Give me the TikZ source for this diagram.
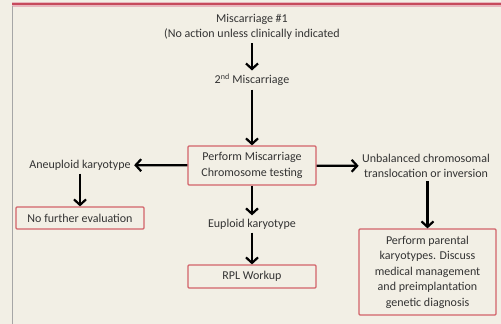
\documentclass[tikz,border=0pt]{standalone}
\usepackage{fontspec}
\setmainfont{Carlito}
\usepackage{tikz}
\usetikzlibrary{positioning,arrows.meta}
\definecolor{paper}{HTML}{F2EFE5}
\definecolor{boxred}{HTML}{D2636A}
\definecolor{rule}{HTML}{C64A5C}
\definecolor{ink}{HTML}{333333}
\tikzstyle{txt} = [text=ink, align=center, font=\fontsize{12}{15.5}\selectfont]
\tikzstyle{redbox} = [txt, draw=boxred, line width=1.2pt, rounded corners=1pt]
\tikzstyle{arrow} = [line width=2.2pt, -{Straight Barb[length=5.5pt, width=12pt]}]

\begin{document}
\begin{tikzpicture}[x=1pt, y=-1pt]
            \useasboundingbox (0,0) rectangle (501,324);
            \fill[paper] (0,0) rectangle (501,324);
            \draw[rule!40, line width=5pt] (12,4) -- (501,4);
            \draw[rule, line width=2.5pt] (12,4) -- (501,4);
            \draw[black!35, line width=1pt] (12,6) -- (12,324);

            \node[txt] (miscA) at (252,27) {Miscarriage \#1\\(No action unless clinically indicated};
            \node[txt] (miscB) at (252,80) {2\textsuperscript{nd} Miscarriage};
            \node[redbox, minimum width=128, minimum height=39] (test) at (252,165.5) {Perform Miscarriage\\Chromosome testing};
            \node[txt] (aneu) at (80,165) {Aneuploid karyotype};
            \node[txt] (unbal) at (426,166) {Unbalanced chromosomal\\translocation or inversion};
            \node[redbox, minimum width=128, minimum height=22] (nofurther) at (80,218) {No further evaluation};
            \node[txt] (eupl) at (252,224) {Euploid karyotype};
            \node[redbox, minimum width=128, minimum height=23] (rpl) at (252,276.5) {RPL Workup};
            \node[redbox, minimum width=137, minimum height=86] (parent) at (427.5,272) {Perform parental\\karyotypes. Discuss\\medical management\\and preimplantation\\genetic diagnosis};

            % flow
            \draw[arrow] (miscA) -- (miscB);
            \draw[arrow] (miscB) -- (test);
            \draw[arrow] (test) -- (aneu);
            \draw[arrow] (test) -- (unbal);
            \draw[arrow] (aneu) -- (nofurther);
            \draw[arrow] (test) -- (eupl);
            \draw[arrow] (eupl) -- (rpl);
            \draw[arrow] (unbal.south -| parent.north) -- (parent);
\end{tikzpicture}
\end{document}
